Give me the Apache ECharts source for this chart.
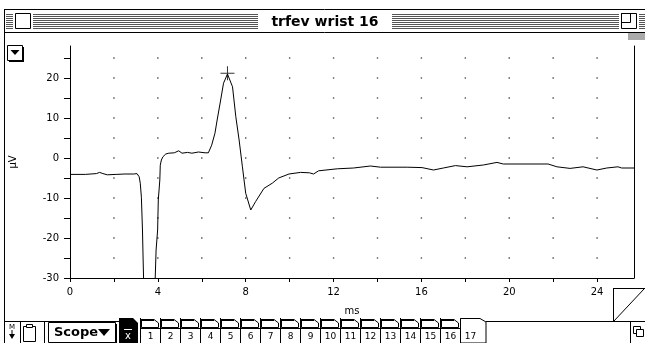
<!DOCTYPE html>
<html>
<head>
<meta charset="utf-8">
<script src="https://cdn.jsdelivr.net/npm/echarts@6/dist/echarts.min.js"></script>
<style>
html,body{margin:0;padding:0;background:#fff;}
#chart{width:645px;height:343px;}
</style>
</head>
<body>
<div id="chart"></div>
<script>
// ---- data (time in ms, amplitude in µV) ----
const times = [0, 0.7, 1.2, 1.35, 1.5, 1.7, 2.1, 2.5, 2.9, 3.05, 3.15, 3.2, 3.25, 3.30, 3.33, 3.35, 3.37, 3.86, 3.88, 3.92, 3.99, 4.02, 4.09, 4.11, 4.16, 4.23, 4.36, 4.5, 4.75, 4.95, 5.1, 5.35, 5.55, 5.85, 6.15, 6.3, 6.45, 6.6, 6.7, 6.86, 6.99, 7.17, 7.4, 7.55, 7.7, 7.85, 8.0, 8.23, 8.45, 8.83, 9.21, 9.5, 9.97, 10.5, 10.9, 11.09, 11.32, 12.17, 12.91, 13.68, 14.14, 15.35, 16.03, 16.55, 17.0, 17.55, 18.08, 18.82, 19.44, 19.73, 21.77, 22.17, 22.77, 23.36, 23.99, 24.44, 24.95, 25.12, 25.68];
const values = [-4.1, -4.1, -3.9, -3.6, -3.9, -4.2, -4.1, -4.0, -4.0, -3.9, -4.7, -6.3, -9.8, -18, -25.5, -30, -45, -45, -30, -23, -18, -10.5, -5.5, -1.8, -0.5, 0.3, 1.0, 1.2, 1.3, 1.8, 1.2, 1.4, 1.2, 1.5, 1.3, 1.3, 3.2, 6.2, 9.5, 14.5, 18.7, 21.0, 17.8, 10.3, 4.5, -2.2, -8.8, -13, -10.9, -7.6, -6.3, -5, -4, -3.6, -3.7, -4, -3.2, -2.7, -2.5, -2, -2.3, -2.3, -2.4, -3, -2.5, -1.9, -2.2, -1.75, -1.1, -1.5, -1.5, -2.2, -2.6, -2.2, -3, -2.5, -2.2, -2.5, -2.5];
const peakMarker = [7.17, 21.2];

const xTickValues = [0, 2, 4, 6, 8, 10, 12, 14, 16, 18, 20, 22, 24];
const xLabelValues = [0, 4, 8, 12, 16, 20, 24];
const yTickValues = [-30, -25, -20, -15, -10, -5, 0, 5, 10, 15, 20, 25];
const yLabelValues = [-30, -20, -10, 0, 10, 20];
const tabLabels = ['1','2','3','4','5','6','7','8','9','10','11','12','13','14','15','16','17'];

const xMax = 25.68, yMin = -30, yMax = 28;

// ---- build ----
const traceData = times.map((t, i) => [t, values[i]]);
const dotData = [];
xTickValues.filter(v => v > 0).forEach(x => {
  yTickValues.filter(v => v > yMin).forEach(y => dotData.push([x, y]));
});

const FONT = '"DejaVu Sans", sans-serif';
const g = [];
function line(x1, y1, x2, y2, c, w) {
  g.push({type:'line', silent:true, shape:{x1, y1, x2, y2}, style:{stroke:c || '#000', lineWidth:w || 1}});
}
function rect(x, y, w, h, fill, stroke) {
  g.push({type:'rect', silent:true, shape:{x, y, width:w, height:h}, style:{fill:fill || 'none', stroke:stroke || null, lineWidth:1}});
}
function poly(points, fill, stroke) {
  g.push({type:'polygon', silent:true, shape:{points}, style:{fill:fill || 'none', stroke:stroke || null, lineWidth:1}});
}
function txt(x, y, s, font, color, align) {
  g.push({type:'text', silent:true, x, y, style:{text:s, font, fill:color || '#000', align:align || 'center', verticalAlign:'middle'}});
}

// window border + title bar
line(4.5, 9, 4.5, 343);
line(4, 9.5, 645, 9.5);
const stripeSegs = [[6, 13], [33, 258], [392, 619], [639, 645]];
for (let y = 14; y <= 28; y += 2) {
  stripeSegs.forEach(s => rect(s[0], y, s[1] - s[0], 1, '#555'));
}
rect(15.5, 13.5, 15, 15, '#fff', '#000');
rect(621.5, 13.5, 15, 15, '#fff', '#000');
rect(621.5, 13.5, 9, 9, 'none', '#000');
txt(325, 22, 'trfev wrist 16', 'bold 14px ' + FONT, '#000');
line(4, 32.5, 645, 32.5);
rect(628, 33, 17, 7, '#aaa');

// top-left popup button
rect(9, 47, 15, 15, '#000');
rect(7.5, 45.5, 15, 15, '#fff', '#000');
poly([[10.5, 50], [19.5, 50], [15, 55]], '#000');

// bottom bar
line(4, 321.5, 119, 321.5);
txt(12, 327, 'M', '7px ' + FONT, '#000');
poly([[9, 334], [15, 334], [12, 339]], '#000');
line(12, 330, 12, 334);
line(20.5, 322, 20.5, 343);
rect(23.5, 326.5, 12, 15, '#fff', '#000');
rect(26.5, 324.5, 6, 3, '#fff', '#000');
line(44.5, 322, 44.5, 343);
rect(50, 324, 67, 20, '#000');
rect(48.5, 322.5, 67, 20, '#fff', '#000');
txt(54, 333, 'Scope', 'bold 13px ' + FONT, '#000', 'left');
poly([[98, 329], [110, 329], [104, 336]], '#000');
// X-bar tab
poly([[119, 343], [119, 318], [133, 318], [138, 323], [138, 343]], '#000');
txt(128, 336, 'x', '10px ' + FONT, '#fff');
line(124, 329.5, 132, 329.5, '#fff');
// numbered tabs
tabLabels.forEach((lab, i) => {
  const x0 = 140 + i * 20;
  const last = i === tabLabels.length - 1;
  if (last) {
    poly([[x0 + 0.5, 343], [x0 + 0.5, 318.5], [x0 + 20, 318.5], [x0 + 26, 322], [x0 + 26, 343]], '#fff', '#000');
  } else {
    poly([[x0 + 1.5, 327.5], [x0 + 1.5, 319.5], [x0 + 14, 319.5], [x0 + 18.5, 323], [x0 + 18.5, 327.5]], '#fff', '#000');
    rect(x0 + 1, 319, 13, 2, '#000');
    line(x0 + 0.5, 328.5, x0 + 20.5, 328.5);
    line(x0 + 0.5, 318, x0 + 0.5, 343);
    line(x0 + 20.5, 318, x0 + 20.5, 343);
  }
  txt(x0 + 10.5, 336.5, lab, '9px ' + FONT, '#000');
});
line(486, 321.5, 645, 321.5);
// page curl box
line(613.5, 288, 613.5, 322);
line(613, 288.5, 645, 288.5);
line(613.5, 321.5, 644, 289);
// resize icon
line(630.5, 322, 630.5, 343);
rect(633.5, 326.5, 7, 7, '#fff', '#000');
rect(636.5, 329.5, 7, 7, '#fff', '#000');

const chart = echarts.init(document.getElementById('chart'), null, {renderer:'canvas'});
chart.setOption({
  animation: false,
  backgroundColor: '#fff',
  grid: {left: 69, right: 11, top: 46, bottom: 65, containLabel: false},
  xAxis: {
    type: 'value', min: 0, max: xMax, position: 'bottom',
    axisLine: {show: true, onZero: false, lineStyle: {color: '#000', width: 1}},
    axisTick: {show: true, length: 4, lineStyle: {color: '#000'}, customValues: xTickValues},
    axisLabel: {color: '#000', fontFamily: 'DejaVu Sans', fontSize: 10, margin: 9, customValues: xLabelValues},
    splitLine: {show: false},
    name: 'ms', nameLocation: 'middle', nameGap: 28,
    nameTextStyle: {color: '#000', fontFamily: 'DejaVu Sans', fontSize: 10}
  },
  yAxis: [{
    type: 'value', min: yMin, max: yMax, position: 'left',
    axisLine: {show: true, onZero: false, lineStyle: {color: '#000', width: 1}},
    axisTick: {show: true, length: 6, lineStyle: {color: '#000'}, customValues: yTickValues},
    axisLabel: {color: '#000', fontFamily: 'DejaVu Sans', fontSize: 10, margin: 11, customValues: yLabelValues},
    splitLine: {show: false},
    name: 'µV', nameLocation: 'middle', nameGap: 52, nameRotate: 90,
    nameTextStyle: {color: '#000', fontFamily: 'DejaVu Sans', fontSize: 10}
  }, {
    type: 'value', min: yMin, max: yMax, position: 'right',
    axisLine: {show: true, onZero: false, lineStyle: {color: '#000', width: 1}},
    axisTick: {show: false}, axisLabel: {show: false}, splitLine: {show: false}
  }],
  series: [{
    type: 'scatter', data: dotData, symbol: 'rect', symbolSize: 1.4,
    itemStyle: {color: '#222'}, silent: true, z: 1
  }, {
    type: 'line', data: traceData, showSymbol: false, clip: true,
    lineStyle: {color: '#000', width: 1}, silent: true, z: 3
  }, {
    type: 'scatter', data: [peakMarker], symbol: 'path://M0,6.5h14v1h-14zM6.5,0h1v14h-1z',
    symbolSize: 14, itemStyle: {color: '#000'}, silent: true, z: 4
  }],
  graphic: g
});
</script>
</body>
</html>
